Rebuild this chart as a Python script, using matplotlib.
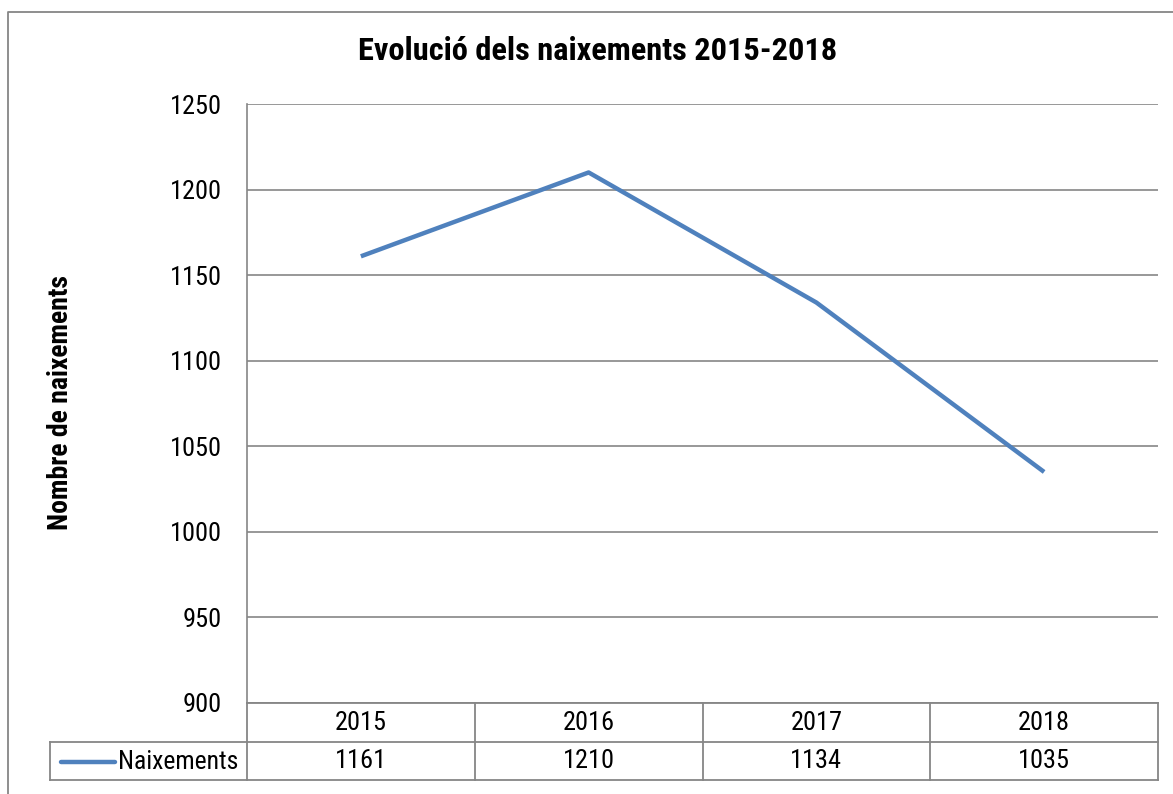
import matplotlib.pyplot as plt
from matplotlib import font_manager
from matplotlib.lines import Line2D

# tipus de lletra estreta (com Arial Narrow) si n'hi ha cap d'instal·lada
instal = {f.name for f in font_manager.fontManager.ttflist}
estretes = ['Liberation Sans Narrow', 'Arial Narrow', 'Roboto Condensed', 'PT Sans Narrow',
            'Archivo Narrow', 'Pragati Narrow', 'Liberation Sans']
font = next(f for f in estretes if f in instal)
plt.rcParams['font.family'] = [font, 'DejaVu Sans']

anys = ['2015', '2016', '2017', '2018']
naixements = [1161, 1210, 1134, 1035]
serie = 'Naixements'
y_ticks = [900, 950, 1000, 1050, 1100, 1150, 1200, 1250]

W, H = 1173, 794
blau = '#4F81BD'
gris = '#868686'

fig = plt.figure(figsize=(W / 100, H / 100), dpi=100)


def fx(x):
    return x / W


def fy(y):
    return 1 - y / H


# zona del gràfic (píxels)
left, right, top, bottom = 247, 1158, 104, 703
ax = fig.add_axes([fx(left), fy(bottom), fx(right) - fx(left), fy(top) - fy(bottom)])

x = list(range(len(anys)))
ax.plot(x, naixements, color=blau, lw=3.2, solid_capstyle='butt', zorder=3)
ax.set_xlim(-0.5, len(anys) - 0.5)
ax.set_ylim(y_ticks[0], y_ticks[-1])
ax.set_yticks(y_ticks)
ax.set_yticklabels([str(v) for v in y_ticks])
ax.set_xticks([])
ax.tick_params(axis='y', length=0, pad=18, labelsize=19)
ax.grid(axis='y', color=gris, lw=1.2)
for s in ['top', 'right', 'bottom']:
    ax.spines[s].set_visible(False)
ax.spines['left'].set_color(gris)
ax.spines['left'].set_linewidth(1.2)

fig.text(fx(61), fy(403), 'Nombre de naixements', rotation=90, ha='center', va='center',
         fontsize=20, fontweight='bold')
fig.text(fx(598), fy(51), 'Evolució dels naixements 2015-2018', ha='center', va='center',
         fontsize=23.3, fontweight='bold')

# taula de dades
row1, row2, row3 = 703, 742, 780
tleft = 50
cw = (right - left) / len(anys)


def hline(x0, x1, y):
    fig.add_artist(Line2D([fx(x0), fx(x1)], [fy(y), fy(y)], color=gris, lw=1.3))


def vline(x, y0, y1):
    fig.add_artist(Line2D([fx(x), fx(x)], [fy(y0), fy(y1)], color=gris, lw=1.3))


hline(left, right, row1)
hline(tleft, right, row2)
hline(tleft, right, row3)
vline(tleft, row2, row3)
for i in range(len(anys) + 1):
    vline(left + i * cw, row1, row3)

for i, (a, v) in enumerate(zip(anys, naixements)):
    cx = left + (i + 0.5) * cw
    fig.text(fx(cx), fy((row1 + row2) / 2), a, ha='center', va='center', fontsize=19)
    fig.text(fx(cx), fy((row2 + row3) / 2), str(v), ha='center', va='center', fontsize=19)

fig.add_artist(Line2D([fx(61), fx(115)], [fy(762), fy(762)], color=blau, lw=3.2,
                      solid_capstyle='round'))
fig.text(fx(118), fy(762), serie, ha='left', va='center', fontsize=18.5)

# marc exterior
fig.add_artist(Line2D([fx(8), fx(8), fx(W + 5)], [fy(H + 5), fy(12), fy(12)],
                      color=gris, lw=1.3))

fig.savefig('out.png', dpi=100)
